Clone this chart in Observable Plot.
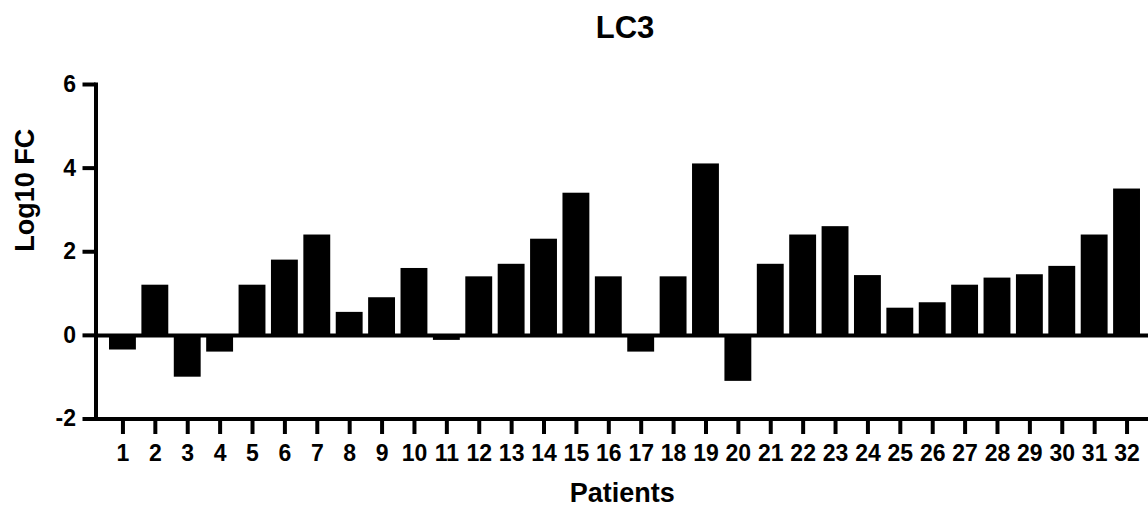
<!DOCTYPE html>
<html>
<head>
<meta charset="utf-8">
<script src="https://cdn.jsdelivr.net/npm/d3@7"></script>
<script src="https://cdn.jsdelivr.net/npm/@observablehq/plot@0.6"></script>
<style>
  html, body { margin: 0; padding: 0; background: #fff; }
  body { width: 1148px; height: 507px; overflow: hidden; font-family: "Liberation Sans", Arial, sans-serif; }
  #title { height: 50px; box-sizing: border-box; padding-top: 12px; padding-left: 102px; text-align: center;
           font-size: 31px; font-weight: bold; line-height: 1; color: #000; }
</style>
</head>
<body>
<div id="title">LC3</div>
<div id="chart"></div>
<script>
const patients = ["1","2","3","4","5","6","7","8","9","10","11","12","13","14","15","16",
                  "17","18","19","20","21","22","23","24","25","26","27","28","29","30","31","32"];
const log10fc = [-0.35, 1.2, -1.0, -0.4, 1.2, 1.8, 2.4, 0.55, 0.9, 1.6, -0.12, 1.4, 1.7, 2.3, 3.4, 1.4,
                 -0.4, 1.4, 4.1, -1.1, 1.7, 2.4, 2.6, 1.43, 0.65, 0.78, 1.2, 1.37, 1.45, 1.65, 2.4, 3.5];
const yTicks = [-2, 0, 2, 4, 6];
const xTitle = "Patients";
const yTitle = "Log10 FC";

const data = patients.map((p, i) => ({patient: p, value: log10fc[i]}));

const chart = Plot.plot({
  width: 1148,
  height: 457,
  marginTop: 34,
  marginBottom: 88.5,
  marginLeft: 95.5,
  marginRight: 0,
  style: {fontFamily: "Liberation Sans, Arial, sans-serif", fontWeight: "bold", color: "#000", background: "#fff", overflow: "hidden"},
  x: {domain: patients, range: [95.5, 1153.5], paddingInner: 0.17, paddingOuter: 0.417, align: 0.5, round: false},
  y: {domain: [-2, 6]},
  marks: [
    Plot.barY(data, {x: "patient", y: "value", fill: "#000"}),
    Plot.ruleY([0], {stroke: "#000", strokeWidth: 4}),
    Plot.ruleY([-2], {stroke: "#000", strokeWidth: 4}),
    Plot.frame({anchor: "left", stroke: "#000", strokeWidth: 4}),
    Plot.axisY({ticks: yTicks, tickFormat: d => `${d}`, tickSize: 13, tickPadding: 7, fontSize: 23, fontWeight: "bold", strokeWidth: 4, label: null}),
    Plot.axisX({tickSize: 15.5, tickPadding: 10, fontSize: 23, fontWeight: "bold", strokeWidth: 4, label: null}),
    Plot.text([xTitle], {frameAnchor: "bottom", dy: 74, fontSize: 27, fontWeight: "bold", fill: "#000", lineAnchor: "middle"}),
    Plot.text([yTitle], {frameAnchor: "left", dx: -71, rotate: -90, fontSize: 27, fontWeight: "bold", fill: "#000", lineAnchor: "middle"})
  ]
});
document.getElementById("chart").appendChild(chart);
</script>
</body>
</html>
